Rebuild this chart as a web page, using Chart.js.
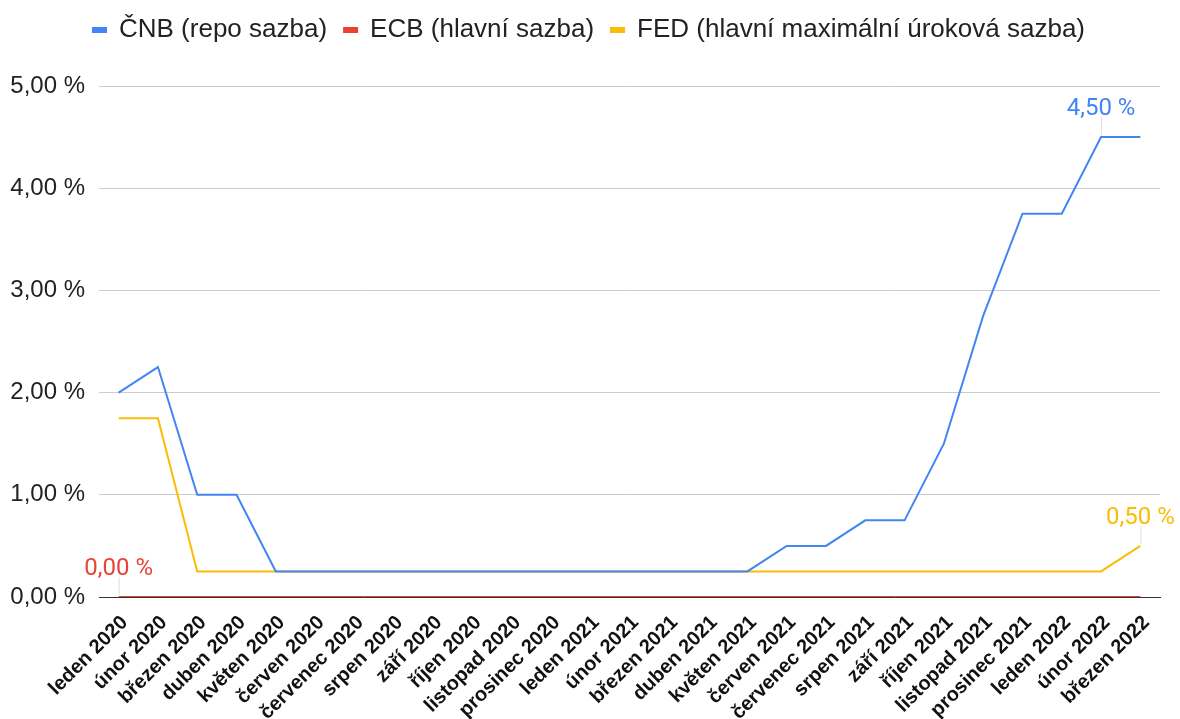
<!DOCTYPE html>
<html>
<head>
<meta charset="utf-8">
<script src="https://cdn.jsdelivr.net/npm/chart.js@4.4.1/dist/chart.umd.min.js"></script>
<style>
  html, body { margin: 0; padding: 0; background: #fff; }
  #obal { width: 1180px; height: 719px; }
</style>
</head>
<body>
<div id="obal"><canvas id="graf"></canvas></div>
<script>
const mesice = [
    'leden 2020', 'únor 2020', 'březen 2020', 'duben 2020', 'květen 2020', 'červen 2020',
    'červenec 2020', 'srpen 2020', 'září 2020', 'říjen 2020', 'listopad 2020', 'prosinec 2020',
    'leden 2021', 'únor 2021', 'březen 2021', 'duben 2021', 'květen 2021', 'červen 2021',
    'červenec 2021', 'srpen 2021', 'září 2021', 'říjen 2021', 'listopad 2021', 'prosinec 2021',
    'leden 2022', 'únor 2022', 'březen 2022'
];

const cnb = [2.00, 2.25, 1.00, 1.00, 0.25, 0.25, 0.25, 0.25, 0.25, 0.25, 0.25, 0.25, 0.25,
             0.25, 0.25, 0.25, 0.25, 0.50, 0.50, 0.75, 0.75, 1.50, 2.75, 3.75, 3.75, 4.50, 4.50];
const ecb = [0, 0, 0, 0, 0, 0, 0, 0, 0, 0, 0, 0, 0, 0, 0, 0, 0, 0, 0, 0, 0, 0, 0, 0, 0, 0, 0];
const fed = [1.75, 1.75, 0.25, 0.25, 0.25, 0.25, 0.25, 0.25, 0.25, 0.25, 0.25, 0.25, 0.25,
             0.25, 0.25, 0.25, 0.25, 0.25, 0.25, 0.25, 0.25, 0.25, 0.25, 0.25, 0.25, 0.25, 0.50];

const nazvy = ['ČNB (repo sazba)', 'ECB (hlavní sazba)', 'FED (hlavní maximální úroková sazba)'];
const barvy = ['#4285f4', '#ea4335', '#fbbc04'];

// which points get a value label: [series, month index]
const popisky = [[0, 25], [1, 0], [2, 26]];

const pismo = "'Liberation Sans', Arial, sans-serif";

function procenta(v) {
    return v.toFixed(2).replace('.', ',') + ' %';
}

// value labels above selected points, with a faint leader line
const hodnotyPlugin = {
    id: 'hodnoty',
    afterDatasetsDraw(chart) {
        const ctx = chart.ctx;
        ctx.save();
        popisky.forEach(([s, i]) => {
            const bod = chart.getDatasetMeta(s).data[i];
            const v = chart.data.datasets[s].data[i];
            ctx.strokeStyle = '#e0e0e0';
            ctx.lineWidth = 1;
            ctx.beginPath();
            ctx.moveTo(bod.x + 0.5, bod.y - 2);
            ctx.lineTo(bod.x + 0.5, bod.y - 20);
            ctx.stroke();
            ctx.fillStyle = barvy[s];
            ctx.font = "24px Roboto, sans-serif";
            ctx.textAlign = 'center';
            ctx.textBaseline = 'alphabetic';
            ctx.fillText(procenta(v), bod.x, bod.y - 22);
        });
        ctx.restore();
    }
};

// fixed legend height, legend nudged a bit to the right
const legendaPlugin = {
    id: 'legendaVyska',
    beforeInit(chart) {
        const legenda = chart.legend;
        const puvodniFit = legenda.fit;
        legenda.fit = function () {
            puvodniFit.bind(legenda)();
            this.height = 86;
        };
        const puvodniDraw = legenda.draw;
        legenda.draw = function () {
            chart.ctx.save();
            chart.ctx.translate(9, 0);
            puvodniDraw.bind(legenda)();
            chart.ctx.restore();
        };
    }
};

const ctx = document.getElementById('graf').getContext('2d');
new Chart(ctx, {
    type: 'line',
    data: {
        labels: mesice,
        datasets: [cnb, ecb, fed].map((d, k) => ({
            label: nazvy[k],
            data: d,
            borderColor: barvy[k],
            backgroundColor: barvy[k],
            borderWidth: 2,
            pointRadius: 0,
            tension: 0
        }))
    },
    plugins: [hodnotyPlugin, legendaPlugin],
    options: {
        responsive: true,
        maintainAspectRatio: false,
        animation: false,
        layout: { padding: { top: 0, right: 20, bottom: 0, left: 0 } },
        plugins: {
            tooltip: { enabled: false },
            legend: {
                position: 'top',
                labels: {
                    boxWidth: 13,
                    boxHeight: 4,
                    padding: 17,
                    color: '#222',
                    font: { family: pismo, size: 26 }
                }
            }
        },
        scales: {
            x: {
                offset: true,
                grid: { color: 'transparent', drawTicks: false },
                border: { display: true, color: '#333', width: 1 },
                ticks: {
                    autoSkip: false,
                    minRotation: 45,
                    maxRotation: 45,
                    padding: 14,
                    labelOffset: 6,
                    color: '#111',
                    font: { family: pismo, size: 20, weight: 'bold' }
                },
                afterFit(scale) { scale.height = 122; }
            },
            y: {
                min: 0,
                max: 5,
                grid: { color: '#cccccc', drawTicks: false },
                border: { display: false },
                ticks: {
                    stepSize: 1,
                    padding: 14,
                    color: '#222',
                    font: { family: pismo, size: 24 },
                    callback: v => procenta(v)
                },
                afterFit(scale) { scale.width = 99; }
            }
        }
    }
});
</script>
</body>
</html>
